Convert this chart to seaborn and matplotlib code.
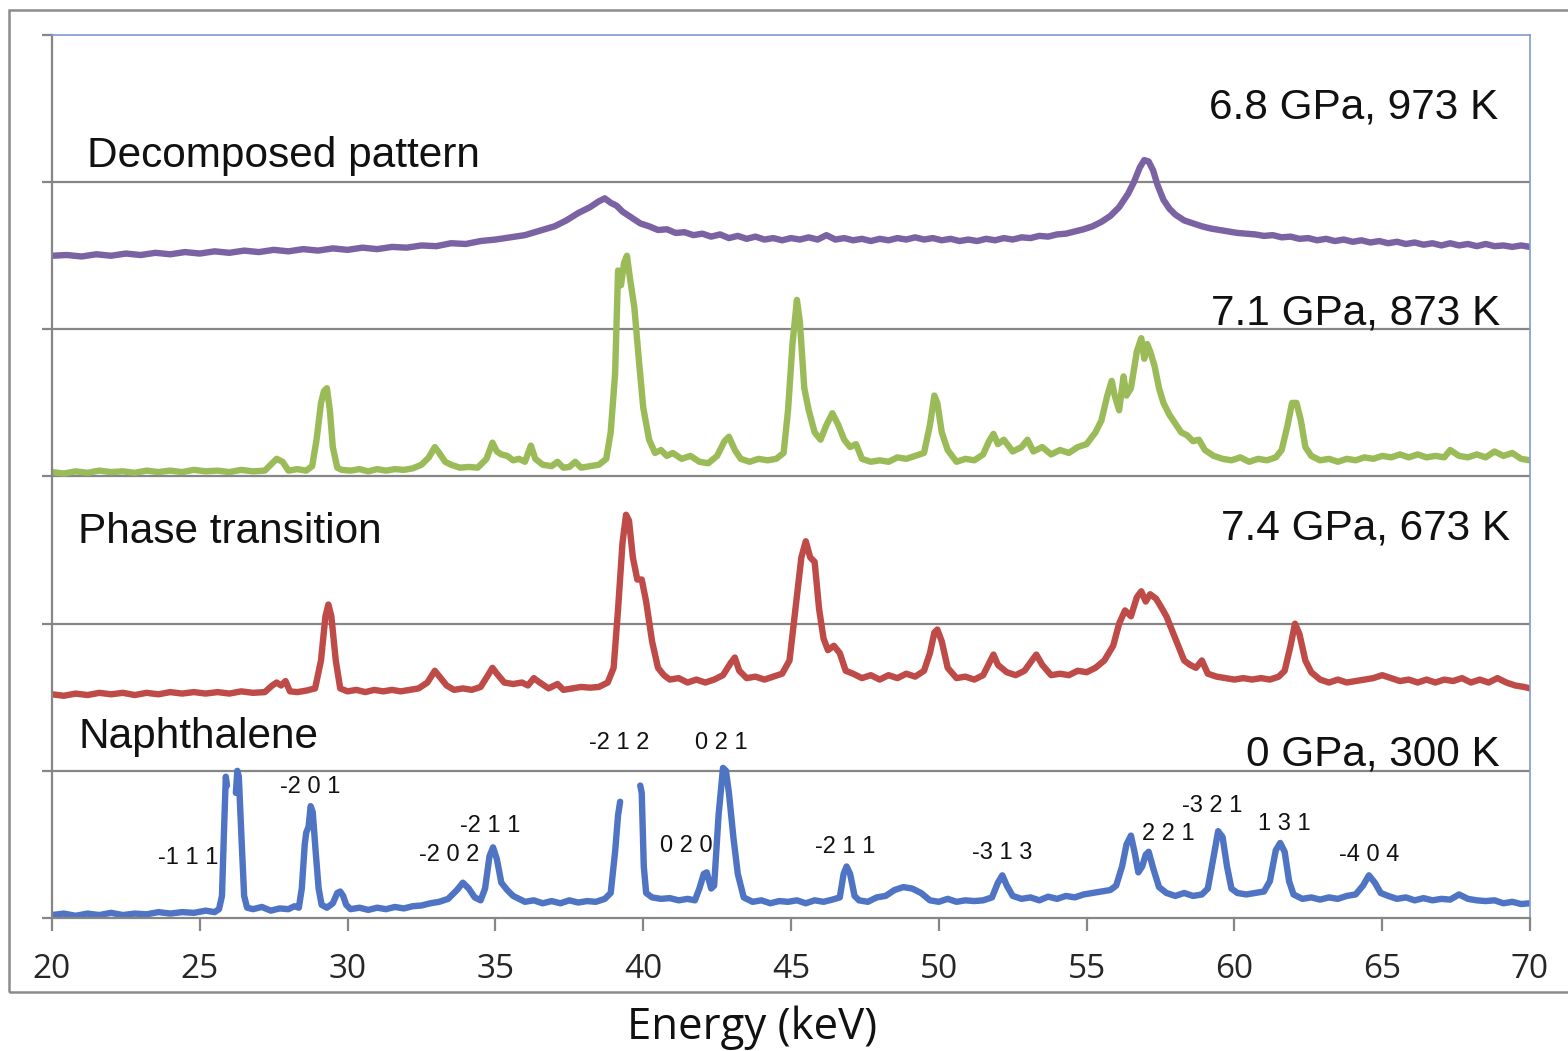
import numpy as np
import pandas as pd
import matplotlib
matplotlib.use("Agg")
import matplotlib.pyplot as plt
import seaborn as sns
from matplotlib.patches import Rectangle

# energy (keV), intensity (stacked, arbitrary units); nan = gap in the data
naphthalene = [
    (20.0, 0.02), (20.4, 0.03), (20.8, 0.015), (21.2, 0.03), (21.6, 0.02), (22.0, 0.035), (22.4, 0.02),
    (22.8, 0.03), (23.2, 0.025), (23.6, 0.04), (24.0, 0.03), (24.4, 0.04), (24.8, 0.035), (25.2, 0.05),
    (25.5, 0.04), (25.65, 0.06), (25.75, 0.15), (25.82, 0.6), (25.88, 0.96), (25.92, 0.9), (26.05, np.nan),
    (26.22, 0.85), (26.27, 1.0), (26.32, 0.96), (26.42, 0.5), (26.5, 0.15), (26.6, 0.07), (26.8, 0.06),
    (27.1, 0.075), (27.4, 0.05), (27.7, 0.065), (28.0, 0.06), (28.2, 0.08), (28.35, 0.07), (28.45, 0.2),
    (28.55, 0.5), (28.6, 0.58), (28.68, 0.62), (28.75, 0.76), (28.82, 0.72), (28.92, 0.45), (29.02, 0.2),
    (29.12, 0.09), (29.3, 0.07), (29.5, 0.1), (29.65, 0.17), (29.75, 0.18), (29.85, 0.15), (29.95, 0.09),
    (30.1, 0.06), (30.4, 0.07), (30.7, 0.055), (31.0, 0.07), (31.3, 0.06), (31.6, 0.075), (31.9, 0.065),
    (32.2, 0.08), (32.5, 0.085), (32.8, 0.1), (33.1, 0.11), (33.4, 0.13), (33.7, 0.19), (33.9, 0.24),
    (34.1, 0.2), (34.3, 0.14), (34.5, 0.12), (34.65, 0.2), (34.8, 0.42), (34.92, 0.48), (35.05, 0.4),
    (35.2, 0.24), (35.4, 0.19), (35.6, 0.15), (35.8, 0.13), (36.0, 0.11), (36.3, 0.12), (36.6, 0.1),
    (36.9, 0.115), (37.2, 0.1), (37.5, 0.12), (37.8, 0.105), (38.1, 0.115), (38.4, 0.11), (38.7, 0.13),
    (38.9, 0.17), (39.05, 0.45), (39.15, 0.7), (39.22, 0.79), (39.5, np.nan), (39.9, 0.9), (39.95, 0.85),
    (40.02, 0.35), (40.1, 0.17), (40.3, 0.14), (40.6, 0.13), (40.9, 0.135), (41.2, 0.12), (41.5, 0.13),
    (41.75, 0.12), (41.9, 0.2), (42.05, 0.3), (42.15, 0.31), (42.3, 0.2), (42.4, 0.22), (42.55, 0.7),
    (42.7, 1.02), (42.8, 1.0), (42.9, 0.85), (43.05, 0.55), (43.2, 0.3), (43.4, 0.14), (43.7, 0.11),
    (44.0, 0.12), (44.3, 0.1), (44.6, 0.115), (44.9, 0.11), (45.2, 0.12), (45.5, 0.1), (45.8, 0.12),
    (46.1, 0.11), (46.4, 0.125), (46.65, 0.14), (46.78, 0.3), (46.88, 0.35), (47.0, 0.3), (47.15, 0.15),
    (47.3, 0.12), (47.6, 0.11), (47.9, 0.14), (48.2, 0.15), (48.5, 0.19), (48.8, 0.21), (49.1, 0.2),
    (49.4, 0.17), (49.7, 0.12), (50.0, 0.11), (50.3, 0.13), (50.6, 0.11), (50.9, 0.12), (51.2, 0.115),
    (51.5, 0.12), (51.8, 0.14), (52.0, 0.24), (52.15, 0.29), (52.3, 0.22), (52.5, 0.15), (52.8, 0.13),
    (53.1, 0.14), (53.4, 0.12), (53.7, 0.145), (54.0, 0.13), (54.3, 0.15), (54.6, 0.14), (54.9, 0.16),
    (55.2, 0.17), (55.5, 0.18), (55.8, 0.19), (56.0, 0.22), (56.2, 0.35), (56.35, 0.5), (56.5, 0.56),
    (56.62, 0.45), (56.75, 0.31), (56.88, 0.35), (57.0, 0.43), (57.1, 0.45), (57.25, 0.34), (57.45, 0.21),
    (57.7, 0.17), (58.0, 0.15), (58.3, 0.17), (58.6, 0.15), (58.9, 0.16), (59.1, 0.2), (59.3, 0.42),
    (59.45, 0.59), (59.6, 0.55), (59.75, 0.35), (59.9, 0.2), (60.1, 0.17), (60.4, 0.16), (60.7, 0.17),
    (61.0, 0.18), (61.2, 0.25), (61.4, 0.46), (61.55, 0.51), (61.7, 0.45), (61.85, 0.25), (62.0, 0.16),
    (62.3, 0.13), (62.6, 0.14), (62.9, 0.125), (63.2, 0.14), (63.5, 0.13), (63.8, 0.15), (64.1, 0.16),
    (64.35, 0.22), (64.55, 0.29), (64.75, 0.24), (64.95, 0.17), (65.2, 0.15), (65.5, 0.13), (65.8, 0.14),
    (66.1, 0.12), (66.4, 0.135), (66.7, 0.12), (67.0, 0.13), (67.3, 0.125), (67.6, 0.16), (67.9, 0.13),
    (68.2, 0.12), (68.5, 0.115), (68.8, 0.12), (69.1, 0.1), (69.4, 0.11), (69.7, 0.095), (70.0, 0.1),
]

phase_673 = [
    (20.0, 1.52), (20.4, 1.51), (20.8, 1.525), (21.2, 1.515), (21.6, 1.53), (22.0, 1.52), (22.4, 1.53),
    (22.8, 1.515), (23.2, 1.53), (23.6, 1.52), (24.0, 1.535), (24.4, 1.525), (24.8, 1.535), (25.2, 1.525),
    (25.6, 1.535), (26.0, 1.525), (26.4, 1.54), (26.8, 1.53), (27.2, 1.535), (27.45, 1.58), (27.6, 1.6),
    (27.75, 1.58), (27.9, 1.61), (28.05, 1.54), (28.3, 1.535), (28.6, 1.545), (28.9, 1.56), (29.1, 1.75),
    (29.25, 2.05), (29.35, 2.13), (29.45, 2.05), (29.6, 1.75), (29.75, 1.56), (30.0, 1.54), (30.3, 1.55),
    (30.6, 1.535), (30.9, 1.55), (31.2, 1.54), (31.5, 1.55), (31.8, 1.54), (32.1, 1.55), (32.4, 1.56),
    (32.7, 1.6), (32.95, 1.68), (33.15, 1.63), (33.35, 1.58), (33.6, 1.55), (33.9, 1.56), (34.2, 1.55),
    (34.5, 1.57), (34.75, 1.65), (34.9, 1.7), (35.05, 1.66), (35.3, 1.6), (35.6, 1.59), (35.9, 1.6),
    (36.1, 1.58), (36.3, 1.63), (36.5, 1.6), (36.8, 1.56), (37.1, 1.59), (37.3, 1.55), (37.6, 1.56),
    (37.9, 1.57), (38.2, 1.565), (38.5, 1.57), (38.8, 1.6), (39.0, 1.7), (39.15, 2.1), (39.3, 2.55),
    (39.42, 2.74), (39.52, 2.7), (39.65, 2.45), (39.8, 2.3), (39.95, 2.3), (40.1, 2.15), (40.3, 1.88),
    (40.5, 1.7), (40.7, 1.65), (40.9, 1.62), (41.2, 1.63), (41.5, 1.6), (41.8, 1.62), (42.1, 1.6),
    (42.4, 1.62), (42.7, 1.65), (42.95, 1.73), (43.1, 1.77), (43.25, 1.68), (43.5, 1.63), (43.8, 1.64),
    (44.1, 1.62), (44.4, 1.64), (44.7, 1.66), (44.95, 1.75), (45.15, 2.1), (45.35, 2.45), (45.5, 2.56),
    (45.65, 2.45), (45.8, 2.42), (45.95, 2.1), (46.1, 1.9), (46.25, 1.82), (46.45, 1.85), (46.65, 1.8),
    (46.85, 1.68), (47.1, 1.66), (47.4, 1.63), (47.7, 1.65), (48.0, 1.62), (48.3, 1.65), (48.6, 1.63),
    (48.9, 1.66), (49.2, 1.64), (49.5, 1.68), (49.7, 1.8), (49.85, 1.94), (49.95, 1.96), (50.1, 1.88),
    (50.3, 1.7), (50.6, 1.63), (50.9, 1.64), (51.2, 1.62), (51.5, 1.65), (51.7, 1.73), (51.85, 1.79),
    (52.0, 1.72), (52.3, 1.67), (52.6, 1.65), (52.9, 1.68), (53.15, 1.75), (53.3, 1.79), (53.5, 1.72),
    (53.8, 1.65), (54.1, 1.66), (54.4, 1.65), (54.7, 1.68), (55.0, 1.67), (55.3, 1.7), (55.6, 1.75),
    (55.9, 1.85), (56.1, 2.0), (56.3, 2.09), (56.5, 2.05), (56.7, 2.18), (56.85, 2.22), (57.0, 2.15),
    (57.15, 2.2), (57.35, 2.17), (57.5, 2.12), (57.7, 2.05), (57.9, 1.95), (58.1, 1.85), (58.3, 1.75),
    (58.5, 1.72), (58.7, 1.7), (58.9, 1.75), (59.1, 1.66), (59.4, 1.64), (59.7, 1.63), (60.0, 1.62),
    (60.3, 1.63), (60.6, 1.62), (60.9, 1.63), (61.2, 1.62), (61.5, 1.64), (61.7, 1.68), (61.9, 1.85),
    (62.05, 2.0), (62.2, 1.93), (62.4, 1.75), (62.6, 1.67), (62.9, 1.62), (63.2, 1.6), (63.5, 1.62),
    (63.8, 1.6), (64.1, 1.61), (64.4, 1.62), (64.7, 1.63), (65.0, 1.65), (65.3, 1.63), (65.6, 1.61),
    (65.9, 1.62), (66.2, 1.6), (66.5, 1.62), (66.8, 1.6), (67.1, 1.62), (67.4, 1.61), (67.7, 1.63),
    (68.0, 1.6), (68.3, 1.62), (68.6, 1.6), (68.9, 1.63), (69.2, 1.6), (69.5, 1.58), (69.8, 1.57),
    (70.0, 1.56),
]

phase_873 = [
    (20.0, 3.03), (20.4, 3.02), (20.8, 3.035), (21.2, 3.025), (21.6, 3.04), (22.0, 3.03), (22.4, 3.035),
    (22.8, 3.025), (23.2, 3.04), (23.6, 3.03), (24.0, 3.04), (24.4, 3.03), (24.8, 3.045), (25.2, 3.035),
    (25.6, 3.04), (26.0, 3.03), (26.4, 3.045), (26.8, 3.035), (27.2, 3.04), (27.4, 3.08), (27.6, 3.12),
    (27.8, 3.1), (28.0, 3.04), (28.3, 3.05), (28.6, 3.04), (28.8, 3.07), (28.95, 3.25), (29.1, 3.5),
    (29.2, 3.58), (29.3, 3.6), (29.4, 3.45), (29.5, 3.2), (29.65, 3.06), (29.8, 3.045), (30.1, 3.04),
    (30.4, 3.05), (30.7, 3.035), (31.0, 3.05), (31.3, 3.04), (31.6, 3.05), (31.9, 3.045), (32.2, 3.055),
    (32.5, 3.08), (32.75, 3.13), (32.95, 3.2), (33.1, 3.16), (33.3, 3.1), (33.5, 3.08), (33.8, 3.06),
    (34.1, 3.065), (34.4, 3.06), (34.7, 3.12), (34.9, 3.23), (35.05, 3.17), (35.2, 3.15), (35.4, 3.14),
    (35.6, 3.11), (35.8, 3.12), (36.0, 3.1), (36.2, 3.21), (36.35, 3.12), (36.6, 3.08), (36.9, 3.07),
    (37.1, 3.1), (37.3, 3.06), (37.5, 3.065), (37.7, 3.1), (37.9, 3.06), (38.2, 3.07), (38.5, 3.08),
    (38.75, 3.12), (38.9, 3.3), (39.05, 3.7), (39.15, 4.4), (39.25, 4.3), (39.35, 4.45), (39.45, 4.5),
    (39.55, 4.35), (39.7, 4.15), (39.85, 3.8), (40.0, 3.47), (40.2, 3.25), (40.4, 3.16), (40.6, 3.18),
    (40.8, 3.14), (41.0, 3.16), (41.3, 3.12), (41.6, 3.14), (41.9, 3.1), (42.2, 3.09), (42.5, 3.14),
    (42.75, 3.24), (42.9, 3.27), (43.1, 3.18), (43.3, 3.12), (43.6, 3.1), (43.9, 3.12), (44.2, 3.11),
    (44.5, 3.12), (44.75, 3.16), (44.9, 3.45), (45.05, 3.9), (45.2, 4.2), (45.3, 4.05), (45.45, 3.6),
    (45.6, 3.45), (45.8, 3.3), (46.0, 3.25), (46.2, 3.35), (46.4, 3.43), (46.6, 3.35), (46.8, 3.25),
    (47.0, 3.2), (47.2, 3.22), (47.4, 3.12), (47.7, 3.1), (48.0, 3.11), (48.3, 3.1), (48.6, 3.13),
    (48.9, 3.12), (49.2, 3.14), (49.5, 3.16), (49.7, 3.35), (49.85, 3.55), (49.95, 3.5), (50.1, 3.3),
    (50.3, 3.18), (50.6, 3.1), (50.9, 3.12), (51.2, 3.11), (51.5, 3.15), (51.7, 3.24), (51.85, 3.29),
    (52.0, 3.22), (52.2, 3.25), (52.5, 3.17), (52.8, 3.2), (53.0, 3.25), (53.2, 3.17), (53.5, 3.2),
    (53.8, 3.15), (54.1, 3.18), (54.4, 3.16), (54.7, 3.2), (55.0, 3.22), (55.3, 3.3), (55.5, 3.38),
    (55.7, 3.55), (55.85, 3.65), (55.95, 3.55), (56.1, 3.45), (56.25, 3.68), (56.35, 3.55), (56.5, 3.6),
    (56.7, 3.85), (56.85, 3.94), (56.95, 3.8), (57.05, 3.9), (57.15, 3.85), (57.3, 3.75), (57.45, 3.6),
    (57.6, 3.5), (57.8, 3.42), (58.0, 3.36), (58.2, 3.3), (58.4, 3.28), (58.6, 3.24), (58.8, 3.25),
    (59.0, 3.18), (59.3, 3.14), (59.6, 3.12), (59.9, 3.11), (60.2, 3.13), (60.5, 3.1), (60.8, 3.12),
    (61.1, 3.11), (61.4, 3.13), (61.6, 3.18), (61.8, 3.35), (61.95, 3.5), (62.1, 3.5), (62.25, 3.38),
    (62.4, 3.2), (62.6, 3.14), (62.9, 3.11), (63.2, 3.12), (63.5, 3.1), (63.8, 3.12), (64.1, 3.11),
    (64.4, 3.13), (64.7, 3.12), (65.0, 3.14), (65.3, 3.13), (65.6, 3.15), (65.9, 3.13), (66.2, 3.15),
    (66.5, 3.13), (66.8, 3.14), (67.1, 3.13), (67.3, 3.18), (67.6, 3.14), (67.9, 3.13), (68.2, 3.15),
    (68.5, 3.13), (68.8, 3.17), (69.1, 3.14), (69.4, 3.16), (69.7, 3.12), (70.0, 3.11),
]

decomposed = [
    (20.0, 4.5), (20.5, 4.505), (21.0, 4.495), (21.5, 4.51), (22.0, 4.5), (22.5, 4.515), (23.0, 4.505),
    (23.5, 4.52), (24.0, 4.51), (24.5, 4.525), (25.0, 4.515), (25.5, 4.53), (26.0, 4.52), (26.5, 4.535),
    (27.0, 4.525), (27.5, 4.54), (28.0, 4.53), (28.5, 4.545), (29.0, 4.535), (29.5, 4.55), (30.0, 4.54),
    (30.5, 4.555), (31.0, 4.545), (31.5, 4.56), (32.0, 4.555), (32.5, 4.57), (33.0, 4.565), (33.5, 4.585),
    (34.0, 4.58), (34.5, 4.6), (35.0, 4.61), (35.5, 4.625), (36.0, 4.64), (36.5, 4.67), (37.0, 4.7),
    (37.4, 4.74), (37.8, 4.79), (38.2, 4.83), (38.5, 4.87), (38.7, 4.89), (38.9, 4.86), (39.1, 4.84),
    (39.3, 4.8), (39.6, 4.76), (39.9, 4.72), (40.2, 4.7), (40.5, 4.675), (40.8, 4.68), (41.1, 4.655),
    (41.4, 4.66), (41.7, 4.64), (42.0, 4.65), (42.3, 4.63), (42.6, 4.645), (42.9, 4.62), (43.2, 4.635),
    (43.5, 4.615), (43.8, 4.63), (44.1, 4.61), (44.4, 4.62), (44.7, 4.605), (45.0, 4.62), (45.3, 4.61),
    (45.6, 4.625), (45.9, 4.61), (46.2, 4.64), (46.5, 4.61), (46.8, 4.62), (47.1, 4.605), (47.4, 4.615),
    (47.7, 4.6), (48.0, 4.615), (48.3, 4.605), (48.6, 4.62), (48.9, 4.61), (49.2, 4.625), (49.5, 4.61),
    (49.8, 4.62), (50.1, 4.605), (50.4, 4.615), (50.7, 4.6), (51.0, 4.61), (51.3, 4.6), (51.6, 4.615),
    (51.9, 4.605), (52.2, 4.62), (52.5, 4.61), (52.8, 4.625), (53.1, 4.62), (53.4, 4.635), (53.7, 4.63),
    (54.0, 4.645), (54.3, 4.65), (54.6, 4.665), (54.9, 4.68), (55.2, 4.7), (55.5, 4.73), (55.8, 4.77),
    (56.1, 4.83), (56.4, 4.92), (56.6, 5.0), (56.8, 5.1), (56.95, 5.15), (57.1, 5.14), (57.25, 5.08),
    (57.4, 4.98), (57.6, 4.88), (57.8, 4.82), (58.0, 4.78), (58.3, 4.74), (58.6, 4.72), (58.9, 4.7),
    (59.2, 4.685), (59.5, 4.675), (59.8, 4.665), (60.1, 4.655), (60.4, 4.65), (60.7, 4.645), (61.0, 4.635),
    (61.3, 4.64), (61.6, 4.625), (61.9, 4.63), (62.2, 4.615), (62.5, 4.62), (62.8, 4.605), (63.1, 4.615),
    (63.4, 4.6), (63.7, 4.61), (64.0, 4.595), (64.3, 4.605), (64.6, 4.59), (64.9, 4.6), (65.2, 4.585),
    (65.5, 4.595), (65.8, 4.58), (66.1, 4.59), (66.4, 4.575), (66.7, 4.585), (67.0, 4.57), (67.3, 4.585),
    (67.6, 4.57), (67.9, 4.58), (68.2, 4.565), (68.5, 4.58), (68.8, 4.565), (69.1, 4.57), (69.4, 4.56),
    (69.7, 4.57), (70.0, 4.56),
]

series_names = ["0 GPa, 300 K", "7.4 GPa, 673 K", "7.1 GPa, 873 K", "6.8 GPa, 973 K"]
series_data = [naphthalene, phase_673, phase_873, decomposed]
colors = ["#4F74C4", "#BE4B48", "#9BBB59", "#7B62A3"]

# Miller indices for the naphthalene pattern: label, energy, height
hkl_labels = ["-1 1 1", "-2 0 1", "-2 0 2", "-2 1 1", "-2 1 2", "0 2 0", "0 2 1",
              "-2 1 1", "-3 1 3", "2 2 1", "-3 2 1", "1 3 1", "-4 0 4"]
hkl_x = [24.6, 28.73, 33.43, 34.82, 39.2, 41.45, 42.63, 46.83, 52.14, 57.75, 59.24, 61.68, 64.55]
hkl_y = [0.41, 0.89, 0.43, 0.625, 1.19, 0.49, 1.19, 0.48, 0.44, 0.57, 0.76, 0.64, 0.43]

# condition labels (right aligned) and phase labels (left aligned)
cond_y = [1.11, 2.65, 4.11, 5.51]
cond_x = [68.99, 69.32, 68.99, 68.92]
phase_labels = ["Naphthalene", "Phase transition", "Decomposed pattern"]
phase_y = [1.23, 2.62, 5.18]
phase_x = [20.88, 20.88, 21.18]

frames = []
for name, pts in zip(series_names, series_data):
    arr = np.array(pts, dtype=float)
    seg = np.cumsum(np.isnan(arr[:, 1]))
    df = pd.DataFrame({"energy": arr[:, 0], "intensity": arr[:, 1], "series": name,
                       "seg": [f"{name}-{s}" for s in seg]})
    frames.append(df.dropna())
data = pd.concat(frames, ignore_index=True)

sns.set_style("white")
plt.rcParams["font.family"] = ["Liberation Sans", "DejaVu Sans"]

fig = plt.figure(figsize=(15.68, 10.51), dpi=100)
ax = fig.add_axes([52 / 1568, 1 - 918 / 1051, (1530 - 52) / 1568, (918 - 35) / 1051])

sns.lineplot(data=data, x="energy", y="intensity", hue="series", units="seg", estimator=None,
             palette=dict(zip(series_names, colors)), linewidth=4.6, legend=False, sort=False,
             solid_joinstyle="round", ax=ax)

ax.set_xlim(20, 70)
ax.set_ylim(0, 6)
ax.set_xticks(range(20, 71, 5))
ax.set_yticks(range(0, 7))
ax.set_yticklabels([])
ax.set_xlabel("")
ax.set_ylabel("")
for v in range(1, 6):
    ax.axhline(v, color="#868686", lw=1.6, zorder=0.5)

grey = "#868686"
for side in ["left", "bottom"]:
    ax.spines[side].set_color(grey)
    ax.spines[side].set_linewidth(1.6)
for side in ["top", "right"]:
    ax.spines[side].set_color("#7F9BD0")
    ax.spines[side].set_linewidth(1.2)
ax.tick_params(axis="x", direction="out", length=9, width=1.6, color=grey, pad=16,
               labelsize=24, labelfontfamily="Open Sans")
ax.tick_params(axis="y", direction="out", length=7, width=1.6, color=grey, left=True)
ax.tick_params(axis="x", bottom=True)

for lab, x, y in zip(hkl_labels, hkl_x, hkl_y):
    ax.text(x, y, lab, ha="center", va="center", fontsize=17, color="#111111")
for lab, x, y in zip(series_names, cond_x, cond_y):
    ax.text(x, y, lab, ha="right", va="center", fontsize=30.5, color="#111111")
for lab, x, y in zip(phase_labels, phase_x, phase_y):
    ax.text(x, y, lab, ha="left", va="center", fontsize=30.5, color="#111111")

fig.patches.append(Rectangle((9 / 1568, 1 - 992 / 1051), 1.1, (992 - 10) / 1051, transform=fig.transFigure,
                             fill=False, edgecolor="#8C8C8C", linewidth=1.8, zorder=0))
fig.text(752 / 1568, 1 - 1028 / 1051, "Energy (keV)", ha="center", va="center", fontsize=31.5,
         family="Open Sans", color="#111111")

fig.savefig("out.png", dpi=100, facecolor="white")
